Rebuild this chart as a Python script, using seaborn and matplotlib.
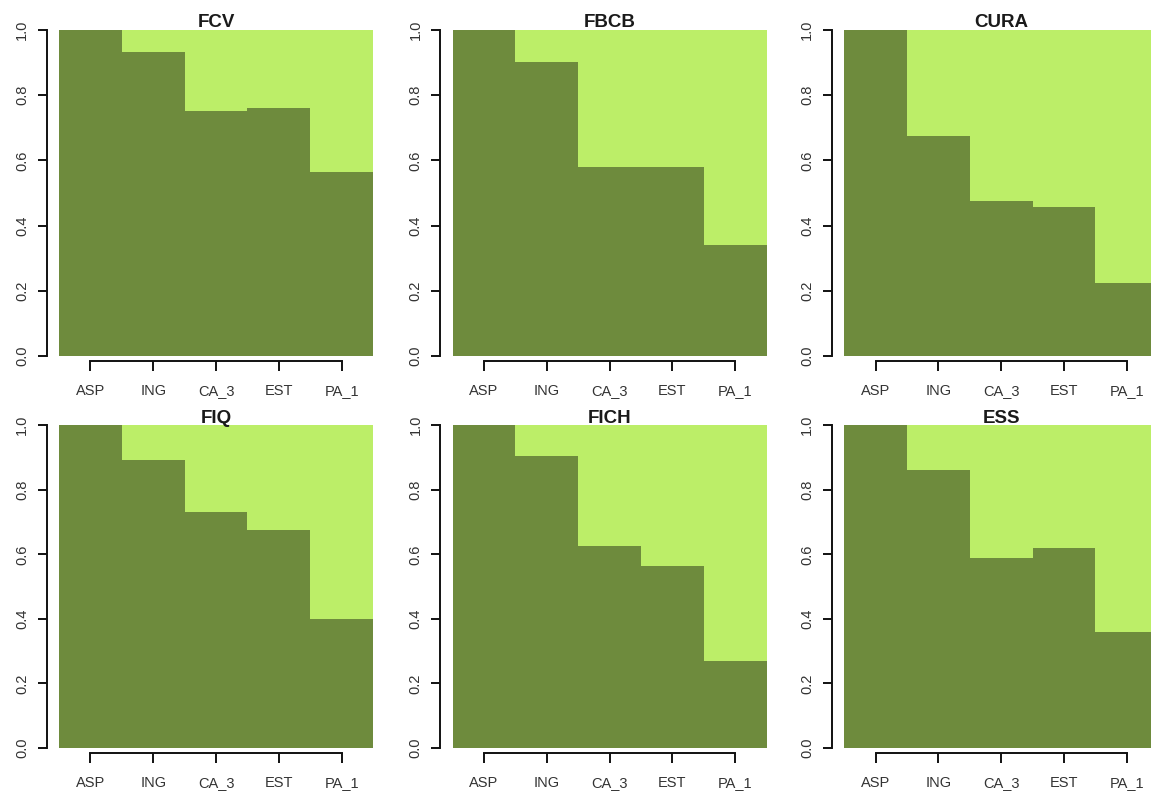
import numpy as np
import pandas as pd
import matplotlib
matplotlib.use("Agg")
import matplotlib.pyplot as plt
import seaborn as sns

# Categories on the x axis and the share held by the dark (lower) segment in each panel
categories = ["ASP", "ING", "CA_3", "EST", "PA_1"]
panel_titles = ["FCV", "FBCB", "CURA", "FIQ", "FICH", "ESS"]

fcv = [1.0, 0.933, 0.752, 0.762, 0.565]
fbcb = [1.0, 0.903, 0.579, 0.579, 0.340]
cura = [1.0, 0.676, 0.474, 0.456, 0.225]
fiq = [1.0, 0.892, 0.731, 0.677, 0.399]
fich = [1.0, 0.905, 0.627, 0.564, 0.271]
ess = [1.0, 0.861, 0.590, 0.620, 0.361]

y_ticks = [0.0, 0.2, 0.4, 0.6, 0.8, 1.0]

DARK = "#6E8B3D"
LIGHT = "#BCEE68"

sns.set_style("white")
plt.rcParams["font.family"] = ["Liberation Sans", "DejaVu Sans"]

W, H = 1151, 793
fig = plt.figure(figsize=(W / 100, H / 100), dpi=100)

# pixel geometry of each panel: left edge of axis line, top (y=1), zero line, x-axis line
col_left = [46.5, 440.0, 831.7]
unit_px = 62.8           # width of one bar in pixels
rows = [
    dict(top=30.0, zero=356.0, axis=361.0),
    dict(top=425.3, zero=748.0, axis=753.0),
]

series = [fcv, fbcb, cura, fiq, fich, ess]

for i, (title, vals) in enumerate(zip(panel_titles, series)):
    r, c = divmod(i, 3)
    g = rows[r]
    left = col_left[c]
    width_px = 5.4 * unit_px
    height_px = g["axis"] - g["top"]
    ax = fig.add_axes([left / W, (H - g["axis"]) / H, width_px / W, height_px / H])

    lower = np.array(vals)
    upper = 1.0 - lower
    df = pd.DataFrame({"cat": categories, "lower": lower, "total": lower + upper})

    # stacked bars: full column in light green, lower share in dark green on top
    sns.barplot(data=df, x="cat", y="total", color=LIGHT, saturation=1, width=1.0,
                linewidth=0, edgecolor="none", ax=ax)
    sns.barplot(data=df, x="cat", y="lower", color=DARK, saturation=1, width=1.0,
                linewidth=0, edgecolor="none", ax=ax)

    scale = g["zero"] - g["top"]
    ax.set_xlim(-0.7, 4.7)
    ax.set_ylim(-(g["axis"] - g["zero"]) / scale, 1.0)

    for side in ("top", "right"):
        ax.spines[side].set_visible(False)
    for side in ("left", "bottom"):
        ax.spines[side].set_linewidth(1.4)
        ax.spines[side].set_color("#111111")
    ax.spines["left"].set_bounds(0, 1)
    ax.spines["bottom"].set_bounds(0, 4)

    ax.set_yticks(y_ticks)
    ax.set_yticklabels([f"{t:.1f}" for t in y_ticks], rotation=90, va="center")
    ax.set_xticks(range(len(categories)))
    ax.set_xticklabels(categories)
    ax.tick_params(axis="y", left=True, direction="out", length=6.5, width=1.4, pad=6,
                   labelsize=10.5, labelcolor="#333333", color="#111111")
    ax.tick_params(axis="x", bottom=True, direction="out", length=7.5, width=1.4, pad=9,
                   labelsize=10.5, labelcolor="#333333", color="#111111")
    ax.set_xlabel("")
    ax.set_ylabel("")
    ax.set_title(title, fontsize=13.5, fontweight="bold", pad=2, color="#1a1a1a")

fig.savefig("out.png", dpi=100)
